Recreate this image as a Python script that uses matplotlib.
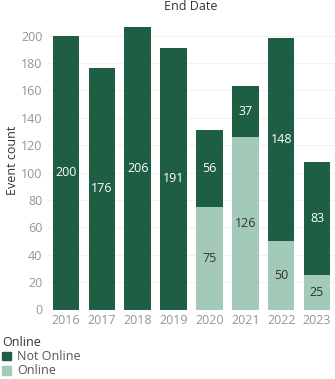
import matplotlib
matplotlib.use("Agg")
import matplotlib.pyplot as plt
from matplotlib.patches import Patch

years = ["2016", "2017", "2018", "2019", "2020", "2021", "2022", "2023"]
not_online = [200, 176, 206, 191, 56, 37, 148, 83]
online = [0, 0, 0, 0, 75, 126, 50, 25]
yticks = [0, 20, 40, 60, 80, 100, 120, 140, 160, 180, 200]

DARK = "#1e5e43"
LIGHT = "#a3c9b9"
FS = 9
plt.rcParams["font.family"] = ["Open Sans", "DejaVu Sans"]

fig = plt.figure(figsize=(3.35, 3.79), dpi=100)
ax = fig.add_axes([48 / 335, 1 - 309.5 / 379, 287 / 335, (309.5 - 15) / 379])

x = range(len(years))
ax.bar(x, online, width=0.74, color=LIGHT, zorder=2)
ax.bar(x, not_online, width=0.74, bottom=online, color=DARK, zorder=2)

for i, (n, o) in enumerate(zip(not_online, online)):
    if o:
        ax.text(i, o / 2, str(o), ha="center", va="center", fontsize=FS, color="#333333", zorder=3)
    ax.text(i, o + n / 2, str(n), ha="center", va="center", fontsize=FS, color="white", zorder=3)

ax.set_xlim(-0.5, 7.5)
ax.set_ylim(0, 215)
ax.set_yticks(yticks)
ax.set_xticks(list(x))
ax.set_xticklabels(years)
ax.tick_params(axis="both", length=0, labelsize=FS, labelcolor="#959595")
ax.tick_params(axis="y", pad=4)
ax.tick_params(axis="x", pad=3)
ax.yaxis.grid(True, color="#f2f2f2", lw=0.8, zorder=0)
for s in ax.spines.values():
    s.set_visible(False)

fig.text(12.5 / 335, 1 - 160 / 379, "Event count", rotation=90, ha="center", va="center",
         fontsize=FS, color="#333333")
fig.text(191 / 335, 1 - 7 / 379, "End Date", ha="center", va="center",
         fontsize=FS, color="#333333")

handles = [Patch(color=DARK, label="Not Online"), Patch(color=LIGHT, label="Online")]
leg = fig.legend(handles=handles, title="Online", loc="upper left",
                 bbox_to_anchor=(2 / 335, 1 - 336 / 379), frameon=False,
                 fontsize=FS, title_fontsize=FS, handlelength=0.7, handleheight=0.7,
                 handletextpad=0.5, labelspacing=0.1, borderpad=0, borderaxespad=0)
leg._legend_box.align = "left"
for t in leg.get_texts():
    t.set_color("#555555")
leg.get_title().set_color("#333333")

fig.savefig("out.png", dpi=100)
